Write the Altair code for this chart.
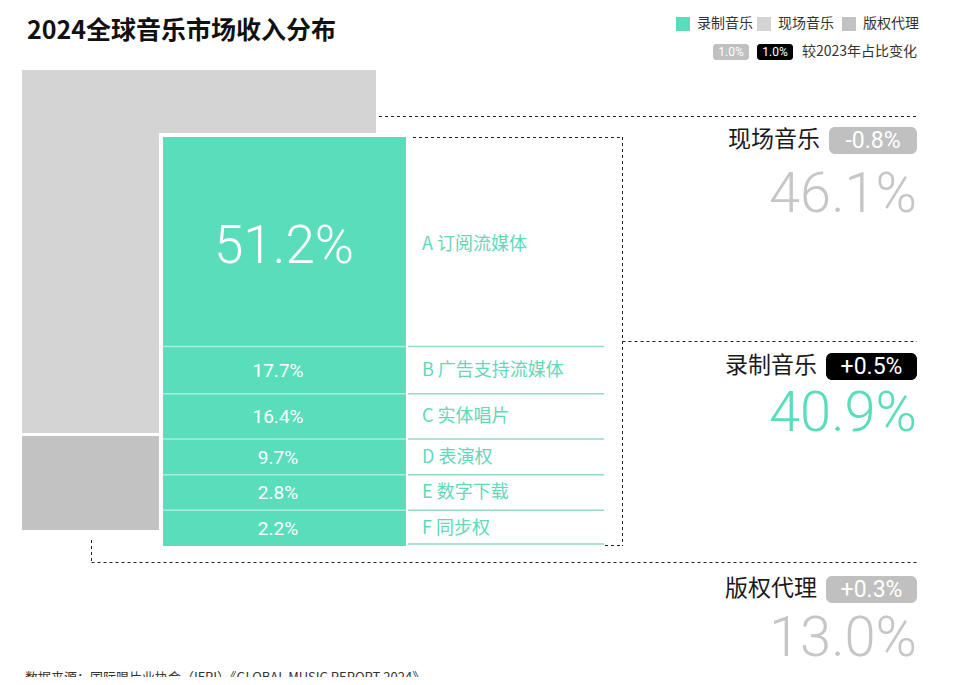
import altair as alt
import pandas as pd

# ---------------- data ----------------
title_text = "2024全球音乐市场收入分布"
source_text = "数据来源：国际唱片业协会（IFPI）《GLOBAL MUSIC REPORT 2024》"
segments = ["现场音乐", "录制音乐", "版权代理"]
segment_share = [46.1, 40.9, 13.0]
segment_change = [-0.8, 0.5, 0.3]
recorded_items = ["A 订阅流媒体", "B 广告支持流媒体", "C 实体唱片", "D 表演权", "E 数字下载", "F 同步权"]
recorded_share = [51.2, 17.7, 16.4, 9.7, 2.8, 2.2]
legend_items = ["录制音乐", "现场音乐", "版权代理"]
legend_badge = "1.0%"
legend_note = "较2023年占比变化"

# ---------------- style ----------------
TEAL = "#5ADDBB"
TEAL_TEXT = "#62D8B9"
TEAL_LINE = "#8FDBC8"
SEP = "#A8EEDC"
LIVE = "#D4D4D4"
PUB = "#C2C2C2"
BADGE_GRAY = "#C0C0C0"
NUM_GRAY = "#C6C6C6"
CJK = "Noto Sans CJK SC"
NUM = "Roboto"

seg_fill = {"现场音乐": LIVE, "录制音乐": TEAL, "版权代理": PUB}
badge_fill = {"现场音乐": BADGE_GRAY, "录制音乐": "#000000", "版权代理": BADGE_GRAY}
num_fill = {"现场音乐": NUM_GRAY, "录制音乐": TEAL, "版权代理": NUM_GRAY}

# ---------------- layout (page pixel coordinates) ----------------
W, H = 951, 669
xs = alt.Scale(domain=[8, 8 + W], nice=False, zero=False)
ys = alt.Scale(domain=[8, 8 + H], nice=False, zero=False, reverse=True)


def X(f):
    return alt.X(f"{f}:Q", scale=xs, axis=None)


def Y(f):
    return alt.Y(f"{f}:Q", scale=ys, axis=None)


live_box = dict(x=22, x2=376, y=70, y2=433)
pub_box = dict(x=22, x2=159, y=436, y2=530)
rec_box = dict(x=163, x2=406, y=137, y2=546)
rows_right = 604
box_right = 622.5
label_x = 422
right_edge = 917

# teal block split: first item proportional, remaining rows with a minimum height
total_h = rec_box["y2"] - rec_box["y"]
first_h = total_h * recorded_share[0] / 100
weights = [max(v, 9.7) + 15 for v in recorded_share[1:]]
rest = total_h - first_h
heights = [first_h] + [rest * w / sum(weights) for w in weights]
bounds = [rec_box["y"]]
for h in heights:
    bounds.append(bounds[-1] + h)

# rects
rect_rows = [
    dict(live_box, fill=seg_fill["现场音乐"]),
    dict(pub_box, fill=seg_fill["版权代理"]),
    dict(x=rec_box["x"] - 4, x2=rec_box["x2"] + 4, y=rec_box["y"] - 4, y2=rec_box["y2"] + 4, fill="#FFFFFF"),
]
for i in range(len(recorded_items)):
    rect_rows.append(dict(x=rec_box["x"], x2=rec_box["x2"], y=bounds[i], y2=bounds[i + 1], fill=seg_fill["录制音乐"]))
rects = pd.DataFrame(rect_rows)

rect_layer = alt.Chart(rects).mark_rect().encode(
    x=X("x"), x2="x2", y=Y("y"), y2="y2", color=alt.Color("fill:N", scale=None)
)

# solid separators
sep_rows = []
for b in bounds[1:-1]:
    sep_rows.append(dict(x=rec_box["x"], x2=rec_box["x2"], y=b, y2=b, color=SEP))
for b in bounds[1:]:
    yb = min(b, rec_box["y2"] - 2)
    sep_rows.append(dict(x=rec_box["x2"] + 2, x2=rows_right, y=yb, y2=yb, color=TEAL_LINE))
seps = pd.DataFrame(sep_rows)
sep_layer = alt.Chart(seps).mark_rule(strokeWidth=1.5).encode(
    x=X("x"), x2="x2", y=Y("y"), y2="y2", color=alt.Color("color:N", scale=None)
)

# dashed guides
name_y = [140, 366, 589]
dash_rows = [
    dict(x=live_box["x2"] + 3, x2=right_edge, y=116.5, y2=116.5),
    dict(x=rec_box["x2"] + 7, x2=box_right, y=rec_box["y"] + 0.5, y2=rec_box["y"] + 0.5),
    dict(x=box_right, x2=box_right, y=rec_box["y"], y2=rec_box["y2"]),
    dict(x=rows_right + 1, x2=box_right, y=rec_box["y2"] - 0.5, y2=rec_box["y2"] - 0.5),
    dict(x=box_right, x2=right_edge, y=341.5, y2=341.5),
    dict(x=91.5, x2=91.5, y=540, y2=562),
    dict(x=91.5, x2=right_edge, y=562.5, y2=562.5),
]
dashes = pd.DataFrame(dash_rows)
dash_layer = alt.Chart(dashes).mark_rule(strokeWidth=1, strokeDash=[3, 3], color="#222222").encode(
    x=X("x"), x2="x2", y=Y("y"), y2="y2"
)

# legend swatches and badges
leg_sq_x = [676, 757, 842]
leg_fill = [TEAL, LIVE, PUB]
badge_rows = []
for sx, f in zip(leg_sq_x, leg_fill):
    badge_rows.append(dict(x=sx, x2=sx + 14, y=17, y2=31, fill=f, r=0))
badge_rows.append(dict(x=713, x2=749, y=44, y2=60, fill=BADGE_GRAY, r=3))
badge_rows.append(dict(x=757, x2=793, y=44, y2=60, fill="#000000", r=3))
badge_top = [127, 353, 576]
badge_w = [88, 91, 91]
for s, t, bw in zip(segments, badge_top, badge_w):
    badge_rows.append(dict(x=right_edge - bw, x2=right_edge, y=t, y2=t + 27, fill=badge_fill[s], r=6))
badges = pd.DataFrame(badge_rows)
badge_sq = alt.Chart(badges[badges.r == 0]).mark_rect().encode(
    x=X("x"), x2="x2", y=Y("y"), y2="y2", color=alt.Color("fill:N", scale=None)
)
badge_small = alt.Chart(badges[badges.r == 3]).mark_rect(cornerRadius=3).encode(
    x=X("x"), x2="x2", y=Y("y"), y2="y2", color=alt.Color("fill:N", scale=None)
)
badge_big = alt.Chart(badges[badges.r == 6]).mark_rect(cornerRadius=6).encode(
    x=X("x"), x2="x2", y=Y("y"), y2="y2", color=alt.Color("fill:N", scale=None)
)


def text_layer(rows, align="left", weight="normal", font=CJK):
    df = pd.DataFrame(rows)
    return alt.Chart(df).mark_text(align=align, baseline="middle", font=font, fontWeight=weight).encode(
        x=X("x"), y=Y("y"), text="text:N",
        size=alt.Size("size:Q", scale=None),
        color=alt.Color("color:N", scale=None),
    )


t_title = text_layer([dict(x=27, y=31, text=title_text, size=25, color="#111111")], weight="bold")

leg_text_rows = [dict(x=sx + 21, y=24, text=t, size=14, color="#333333") for sx, t in zip(leg_sq_x, legend_items)]
leg_text_rows.append(dict(x=802, y=52, text=legend_note, size=14, color="#333333"))
t_leg = text_layer(leg_text_rows)
t_leg_badge = text_layer([
    dict(x=731, y=52, text=legend_badge, size=12, color="#FFFFFF"),
    dict(x=775, y=52, text=legend_badge, size=12, color="#FFFFFF"),
], align="center", font=NUM)

t_names = text_layer(
    [dict(x=right_edge - bw - 9, y=ny, text=s, size=23, color="#1A1A1A")
     for s, ny, bw in zip(segments, name_y, badge_w)],
    align="right",
)
t_badge = text_layer(
    [dict(x=right_edge - bw / 2, y=t + 14, text=f"{c:+.1f}%", size=23, color="#FFFFFF")
     for c, t, bw in zip(segment_change, badge_top, badge_w)],
    align="center", font=NUM,
)
big_y = [195, 414, 639]
t_big = text_layer(
    [dict(x=right_edge, y=by, text=f"{v:.1f}%", size=56, color=num_fill[s])
     for s, v, by in zip(segments, segment_share, big_y)],
    align="right", font=NUM, weight=300,
)

mids = [(bounds[i] + bounds[i + 1]) / 2 for i in range(len(recorded_items))]
t_hero = text_layer([dict(x=284, y=mids[0] + 5, text=f"{recorded_share[0]}%", size=53, color="#FFFFFF")],
                    align="center", font=NUM, weight=300)
t_small = text_layer(
    [dict(x=278, y=m + 1, text=f"{v}%", size=19, color="#FFFFFF") for v, m in zip(recorded_share[1:], mids[1:])],
    align="center", font=NUM,
)
t_labels = text_layer(
    [dict(x=label_x, y=m + (3 if i == 0 else 1), text=t, size=18, color=TEAL_TEXT)
     for i, (t, m) in enumerate(zip(recorded_items, mids))],
)
t_source = text_layer([dict(x=25, y=678, text=source_text, size=13, color="#333333")])

chart = alt.layer(
    rect_layer, sep_layer, dash_layer, badge_sq, badge_small, badge_big,
    t_title, t_leg, t_leg_badge, t_names, t_badge, t_big, t_hero, t_small, t_labels, t_source,
).properties(
    width=W, height=H, autosize=alt.AutoSizeParams(type="none"), padding=0,
).configure_view(stroke=None)

chart.save("out.html", embed_options={"renderer": "svg", "actions": False})
